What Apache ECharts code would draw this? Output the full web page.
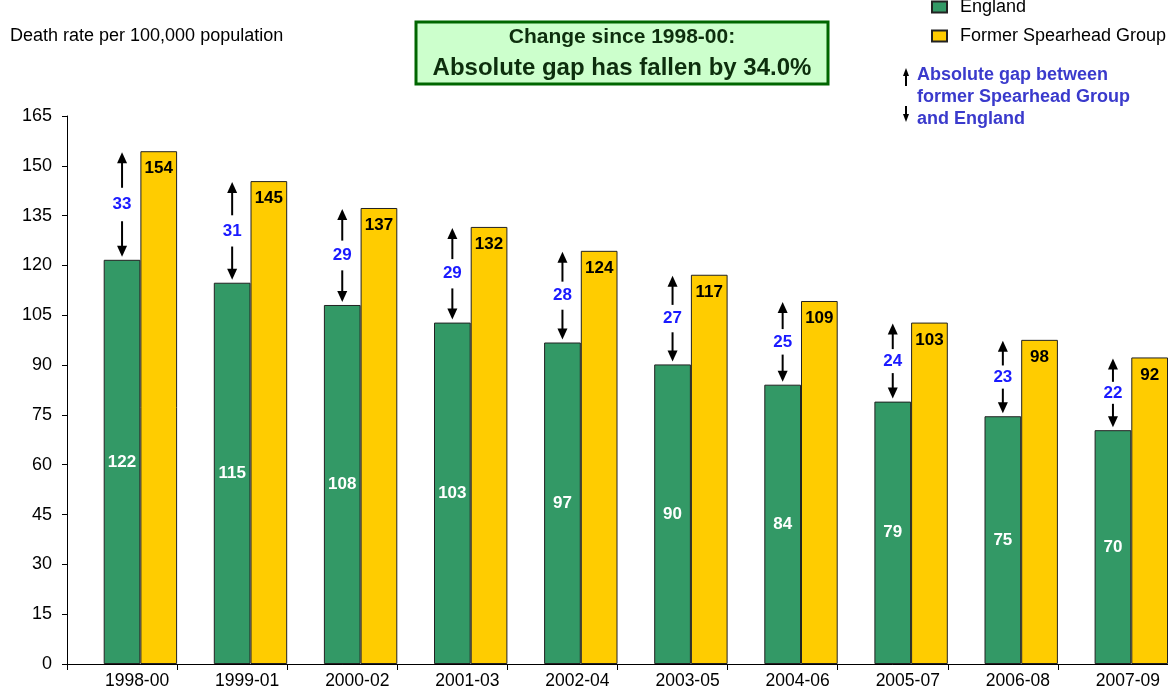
<!DOCTYPE html>
<html>
<head>
<meta charset="utf-8">
<script src="https://cdn.jsdelivr.net/npm/echarts@6/dist/echarts.min.js"></script>
<style>
  html, body { margin: 0; padding: 0; background: #fff; }
  #chart { width: 1168px; height: 690px; }
</style>
</head>
<body>
<div id="chart"></div>
<script>
var periods = ['1998-00', '1999-01', '2000-02', '2001-03', '2002-04', '2003-05', '2004-06', '2005-07', '2006-08', '2007-09'];
var england = [121.7, 114.8, 108.1, 102.8, 96.8, 90.2, 84.1, 79.0, 74.6, 70.4];
var spearhead = [154.4, 145.4, 137.3, 131.6, 124.4, 117.2, 109.3, 102.8, 97.6, 92.3];
var gaps = [33, 31, 29, 29, 28, 27, 25, 24, 23, 22];

var font = '"Liberation Sans", Arial, sans-serif';

// data for the arrow series: [index, england, spearhead, gap]
var gapData = periods.map(function (p, i) {
    return [i, england[i], spearhead[i], gaps[i]];
});

function arrowHead(x, y, dir) {
    // dir = -1 points up, 1 points down
    return {
        type: 'polygon',
        shape: { points: [[x, y], [x - 5, y - dir * 11], [x + 5, y - dir * 11]] },
        style: { fill: '#000' }
    };
}

function renderGap(params, api) {
    var i = api.value(0);
    var x = api.coord([i, 0])[0];
    var yLow = api.coord([i, api.value(1)])[1] - 3;
    var yHigh = api.coord([i, api.value(2)])[1] + 1;
    var span = yLow - yHigh;
    var mid = (yLow + yHigh) / 2;
    var part = span * 0.34;
    return {
        type: 'group',
        children: [
            { type: 'line', shape: { x1: x, y1: yHigh + 8, x2: x, y2: yHigh + part }, style: { stroke: '#000', lineWidth: 2 } },
            arrowHead(x, yHigh, -1),
            { type: 'line', shape: { x1: x, y1: yLow - part, x2: x, y2: yLow - 8 }, style: { stroke: '#000', lineWidth: 2 } },
            arrowHead(x, yLow, 1),
            {
                type: 'text',
                style: {
                    x: x, y: mid, text: String(api.value(3)),
                    align: 'center', verticalAlign: 'middle',
                    fill: '#1a1aff', font: 'bold 17px ' + font
                }
            }
        ]
    };
}

var chart = echarts.init(document.getElementById('chart'));
var option = {
    animation: false,
    grid: { left: 67, right: -4, top: 116, bottom: 25, containLabel: false },
    legend: {
        data: ['England', 'Former Spearhead Group'],
        orient: 'vertical',
        left: 926, top: -7,
        icon: 'rect',
        itemWidth: 15, itemHeight: 11, itemGap: 11,
        textStyle: { fontFamily: font, fontSize: 18, color: '#000', padding: [0, 0, 0, 8] }
    },
    xAxis: {
        type: 'category',
        data: periods,
        axisLine: { lineStyle: { color: '#000', width: 1 } },
        axisTick: { show: true, length: 6, lineStyle: { color: '#000' } },
        axisLabel: { color: '#000', fontFamily: font, fontSize: 17.5, margin: 8, padding: [0, 0, 0, 30] }
    },
    yAxis: {
        type: 'value',
        min: 0, max: 165, interval: 15,
        axisLine: { show: true, lineStyle: { color: '#000', width: 1 } },
        axisTick: { show: true, length: 5, lineStyle: { color: '#000' } },
        splitLine: { show: false },
        axisLabel: { color: '#000', fontFamily: font, fontSize: 18, margin: 15 }
    },
    series: [
        {
            name: 'spacer', type: 'bar', data: periods.map(function () { return null; }),
            barGap: '0%', barCategoryGap: '0%', silent: true
        },
        {
            name: 'England', type: 'bar', data: england,
            barGap: '0%', barCategoryGap: '0%',
            itemStyle: { color: '#339966', borderColor: '#222', borderWidth: 1 },
            label: {
                show: true, position: 'inside', color: '#fff',
                fontFamily: font, fontWeight: 'bold', fontSize: 17,
                formatter: function (p) { return Math.round(p.value); }
            }
        },
        {
            name: 'Former Spearhead Group', type: 'bar', data: spearhead,
            barGap: '0%', barCategoryGap: '0%',
            itemStyle: { color: '#FFCC00', borderColor: '#222', borderWidth: 1 },
            label: {
                show: true, position: 'insideTop', distance: 9, color: '#000',
                fontFamily: font, fontWeight: 'bold', fontSize: 17,
                formatter: function (p) { return Math.round(p.value); }
            }
        },
        {
            name: 'gap', type: 'custom', renderItem: renderGap,
            data: gapData, encode: { x: 0, y: [1, 2] }, z: 5, silent: true
        }
    ],
    graphic: [
        {
            type: 'text', left: 10, top: 27,
            style: { text: 'Death rate per 100,000 population', font: '18px ' + font, fill: '#000' }
        },
        {
            type: 'rect', shape: { x: 416, y: 22, width: 412, height: 62 },
            style: { fill: '#CCFFCC', stroke: '#006600', lineWidth: 3 }
        },
        {
            type: 'text', x: 622, y: 37,
            style: { text: 'Change since 1998-00:', align: 'center', verticalAlign: 'middle', font: 'bold 21px ' + font, fill: '#0d2e0d' }
        },
        {
            type: 'text', x: 622, y: 68,
            style: { text: 'Absolute gap has fallen by 34.0%', align: 'center', verticalAlign: 'middle', font: 'bold 24px ' + font, fill: '#0d2e0d' }
        },
        { type: 'line', shape: { x1: 906, y1: 74, x2: 906, y2: 86 }, style: { stroke: '#000', lineWidth: 2 } },
        { type: 'polygon', shape: { points: [[906, 68], [903, 76], [909, 76]] }, style: { fill: '#000' } },
        { type: 'line', shape: { x1: 906, y1: 106, x2: 906, y2: 116 }, style: { stroke: '#000', lineWidth: 2 } },
        { type: 'polygon', shape: { points: [[906, 122], [903, 114], [909, 114]] }, style: { fill: '#000' } },
        {
            type: 'text', left: 917, top: 64,
            style: {
                text: 'Absolute gap between\nformer Spearhead Group\nand England',
                font: 'bold 18px ' + font, fill: '#3a3acc', lineHeight: 22
            }
        }
    ]
};
chart.setOption(option);
</script>
</body>
</html>
